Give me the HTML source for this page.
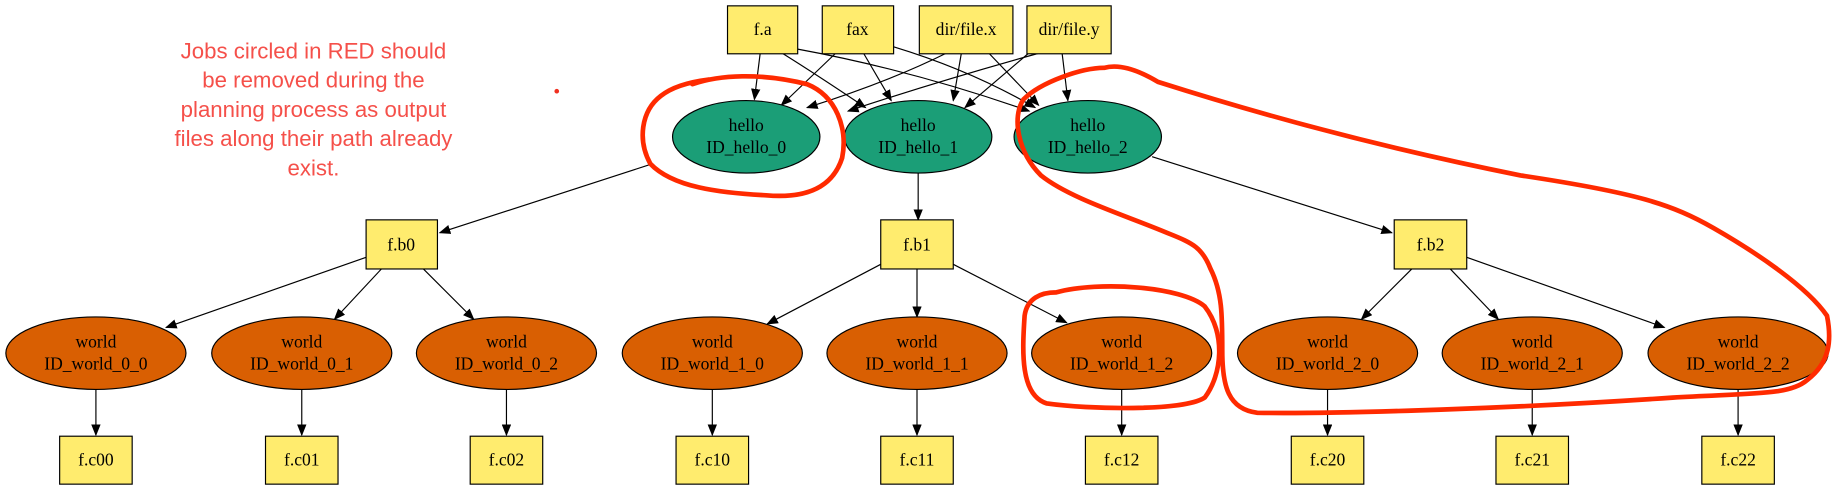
<!DOCTYPE html>
<html><head><meta charset="utf-8"><style>html,body{margin:0;padding:0;background:#fff;}svg{display:block}</style></head>
<body>
<svg width="1834" height="490" viewBox="0 0 1568 419" preserveAspectRatio="none" xmlns="http://www.w3.org/2000/svg">
<defs><marker id="a" markerWidth="10" markerHeight="8" refX="9" refY="4" orient="auto" markerUnits="userSpaceOnUse"><path d="M0,0 L10,4 L0,8 z" fill="#000"/></marker></defs>
<g stroke="#000" stroke-width="1" fill="none" marker-end="url(#a)">
<path d="M650,45 L645,85"/>
<path d="M668,45 Q700,65 740,92"/>
<path d="M682,42 Q780,60 880,95"/>
<path d="M715,45 L668,90"/>
<path d="M738,45 L762,86"/>
<path d="M764,40 Q830,60 885,92"/>
<path d="M810,45 Q760,70 690,92"/>
<path d="M822,45 L815,86"/>
<path d="M845,45 L888,90"/>
<path d="M890,45 Q800,70 725,95"/>
<path d="M880,45 L825,92"/>
<path d="M908,45 L913,86"/>
<path d="M558,140 L376,199"/>
<path d="M785,148 L785,188"/>
<path d="M985,134 L1190,199"/>
<path d="M313,220 L142,280"/>
<path d="M327,229 L286,273"/>
<path d="M361,229 L405,273"/>
<path d="M753,226 L656,277"/>
<path d="M784,229 L784,271"/>
<path d="M815,226 L912,276"/>
<path d="M1208,229 L1164,273"/>
<path d="M1239,229 L1281,273"/>
<path d="M1254,220 L1423,280"/>
<path d="M82,332 L82,372"/><path d="M258,332 L258,372"/><path d="M433,332 L433,372"/>
<path d="M609,332 L609,372"/><path d="M784,332 L784,372"/><path d="M959,332 L959,372"/>
<path d="M1135,332 L1135,372"/><path d="M1310,332 L1310,372"/><path d="M1486,332 L1486,372"/>
</g>
<g font-family="'Liberation Serif',serif" font-size="15" text-anchor="middle">
<g fill="#ffec6e" stroke="#000">
<rect x="622" y="5" width="60" height="41"/><rect x="703" y="5" width="61" height="41"/>
<rect x="786" y="5" width="80" height="41"/><rect x="878" y="5" width="72" height="41"/>
<rect x="313" y="188" width="61" height="42"/><rect x="753" y="188" width="62" height="42"/><rect x="1192" y="188" width="62" height="42"/>
<rect x="51" y="373" width="62" height="41"/><rect x="227" y="373" width="62" height="41"/><rect x="402" y="373" width="62" height="41"/>
<rect x="578" y="373" width="62" height="41"/><rect x="753" y="373" width="62" height="41"/><rect x="928" y="373" width="62" height="41"/>
<rect x="1104" y="373" width="62" height="41"/><rect x="1279" y="373" width="62" height="41"/><rect x="1455" y="373" width="62" height="41"/>
</g>
<g fill="#1b9e77" stroke="#000">
<ellipse cx="638" cy="117" rx="63" ry="31"/><ellipse cx="785" cy="117" rx="63" ry="31"/><ellipse cx="930" cy="117" rx="63" ry="31"/>
</g>
<g fill="#d95f02" stroke="#000">
<ellipse cx="82" cy="302" rx="77" ry="31"/><ellipse cx="258" cy="302" rx="77" ry="31"/><ellipse cx="433" cy="302" rx="77" ry="31"/>
<ellipse cx="609" cy="302" rx="77" ry="31"/><ellipse cx="784" cy="302" rx="77" ry="31"/><ellipse cx="959" cy="302" rx="77" ry="31"/>
<ellipse cx="1135" cy="302" rx="77" ry="31"/><ellipse cx="1310" cy="302" rx="77" ry="31"/><ellipse cx="1486" cy="302" rx="77" ry="31"/>
</g>
<g fill="#000">
<text x="652" y="30">f.a</text><text x="733" y="30">fax</text><text x="826" y="30">dir/file.x</text><text x="914" y="30">dir/file.y</text>
<text x="638" y="112">hello</text><text x="638" y="131">ID_hello_0</text>
<text x="785" y="112">hello</text><text x="785" y="131">ID_hello_1</text>
<text x="930" y="112">hello</text><text x="930" y="131">ID_hello_2</text>
<text x="343" y="214">f.b0</text><text x="784" y="214">f.b1</text><text x="1223" y="214">f.b2</text>
<text x="82" y="297">world</text><text x="82" y="316">ID_world_0_0</text>
<text x="258" y="297">world</text><text x="258" y="316">ID_world_0_1</text>
<text x="433" y="297">world</text><text x="433" y="316">ID_world_0_2</text>
<text x="609" y="297">world</text><text x="609" y="316">ID_world_1_0</text>
<text x="784" y="297">world</text><text x="784" y="316">ID_world_1_1</text>
<text x="959" y="297">world</text><text x="959" y="316">ID_world_1_2</text>
<text x="1135" y="297">world</text><text x="1135" y="316">ID_world_2_0</text>
<text x="1310" y="297">world</text><text x="1310" y="316">ID_world_2_1</text>
<text x="1486" y="297">world</text><text x="1486" y="316">ID_world_2_2</text>
<text x="82" y="398">f.c00</text><text x="258" y="398">f.c01</text><text x="433" y="398">f.c02</text>
<text x="609" y="398">f.c10</text><text x="784" y="398">f.c11</text><text x="959" y="398">f.c12</text>
<text x="1135" y="398">f.c20</text><text x="1310" y="398">f.c21</text><text x="1486" y="398">f.c22</text>
</g>
</g>
<g font-family="'Liberation Sans',sans-serif" font-size="19" fill="#f5504a" text-anchor="middle">
<text x="268" y="50">Jobs circled in RED should</text>
<text x="268" y="75">be removed during the</text>
<text x="268" y="100">planning process as output</text>
<text x="268" y="125">files along their path already</text>
<text x="268" y="150">exist.</text>
</g>
<circle cx="476" cy="78" r="2" fill="#f03020"/>
<g stroke="#ff2a00" stroke-width="4" fill="none" stroke-linecap="round" stroke-linejoin="round">
<path d="M592,72 C615,64 650,62 690,72 C715,82 725,110 720,135 C712,160 690,170 655,167 C615,165 575,160 556,140 C545,120 548,95 565,82 C575,74 590,70 606,68"/>
<path d="M903,250 C940,240 1010,245 1030,262 C1048,285 1045,320 1030,340 C1012,352 930,350 895,345 C872,338 874,300 876,270 C878,255 890,250 903,250"/>
<path d="M944,58 C925,58 890,70 875,85 C865,100 870,130 890,150 C915,170 965,185 1000,200 C1020,208 1028,212 1035,230 C1045,250 1045,270 1045,300 C1045,330 1050,350 1075,353 C1150,354 1300,349 1430,340 C1500,336 1530,338 1545,325 C1565,310 1566,290 1562,270 C1545,245 1500,215 1465,195 C1430,175 1400,165 1300,150 C1200,130 1100,105 990,70 C970,58 955,55 944,58"/>
</g>
</svg>
</body></html>
